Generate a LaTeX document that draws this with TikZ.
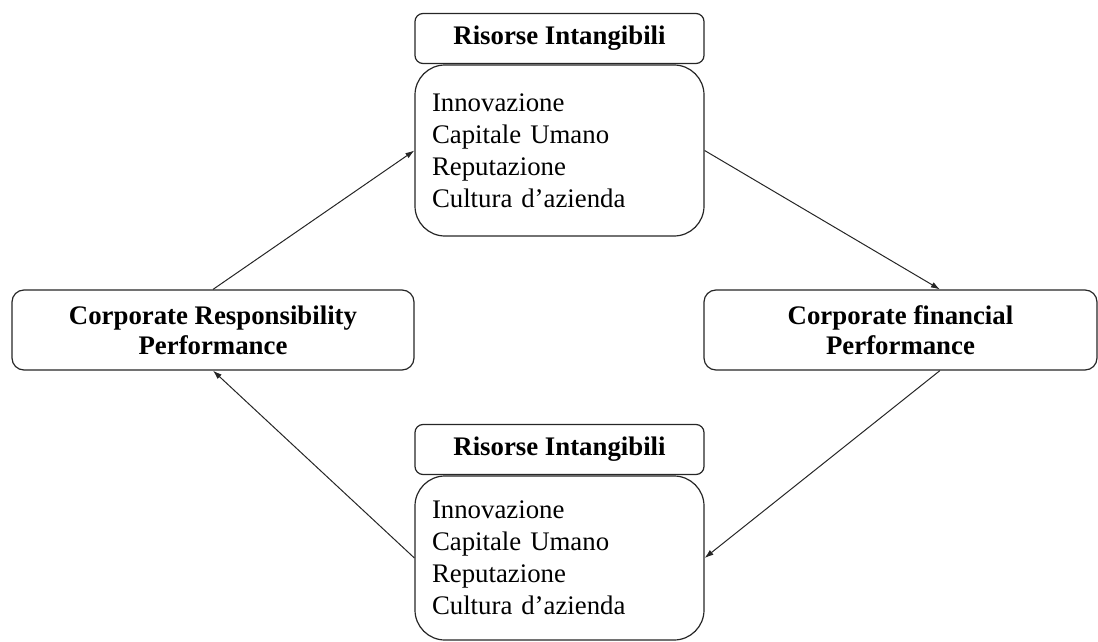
\documentclass[tikz,border=0pt]{standalone}
\usepackage{fontspec}
\setmainfont{Liberation Serif}
\usetikzlibrary{arrows.meta,calc}
\begin{document}
\begin{tikzpicture}[x=1pt,y=-1pt,
  box/.style={draw=black!85,line width=1.2pt,rounded corners=12pt,align=center,
    font=\fontsize{26.8}{30}\selectfont\bfseries,inner sep=0pt},
  headbox/.style={draw=black!85,line width=1.2pt,rounded corners=8pt,align=center,
    font=\fontsize{26.8}{30}\selectfont\bfseries,inner sep=0pt,minimum width=289pt,minimum height=50pt},
  bodybox/.style={draw=black!85,line width=1.2pt,rounded corners=30pt,align=left,
    font=\fontsize{26.8}{32}\selectfont,inner xsep=17pt,inner ysep=0pt,text width=255pt},
  link/.style={draw=black!85,line width=1pt,-{Latex[length=9pt,width=6pt]}}]
\useasboundingbox (0,0) rectangle (1098,642);
% top group
\node[headbox] (tophead) at (559.5,38.5) {Risorse Intangibili};
\node[bodybox,minimum height=171pt] (topbody) at (559.5,150.5)
  {Innovazione\\Capitale Umano\\Reputazione\\Cultura d’azienda};
% side boxes
\node[box,minimum width=402pt,minimum height=80pt] (leftbox) at (213,330)
  {Corporate Responsibility\\Performance};
\node[box,minimum width=393pt,minimum height=80pt] (rightbox) at (900.5,330)
  {Corporate financial\\Performance};
% bottom group
\node[headbox] (bothead) at (559.5,449.5) {Risorse Intangibili};
\node[bodybox,minimum height=164pt] (botbody) at (559.5,558)
  {Innovazione\\Capitale Umano\\Reputazione\\Cultura d’azienda};
% connectors
\draw[link] (leftbox.north) -- (topbody.west);
\draw[link] (topbody.east) -- ($(rightbox.north west)!0.6!(rightbox.north east)$);
\draw[link] ($(rightbox.south west)!0.6!(rightbox.south east)$) -- (botbody.east);
\draw[link] (botbody.west) -- (leftbox.south);
\end{tikzpicture}
\end{document}
